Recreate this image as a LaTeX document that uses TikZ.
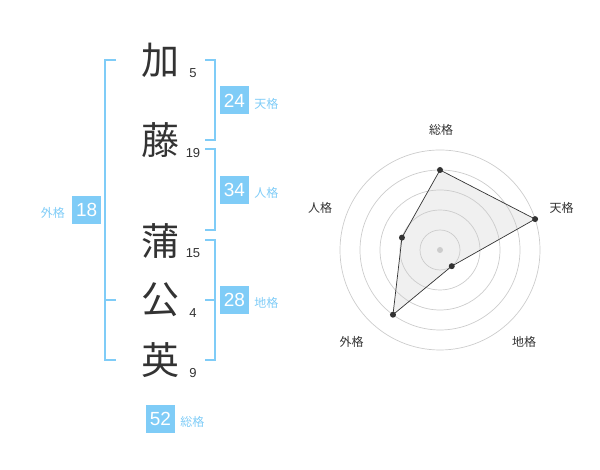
\documentclass[tikz,border=0pt]{standalone}
\usepackage{fontspec}
\setmainfont{Liberation Sans}
\newfontfamily\cjk{Noto Sans CJK JP}
\usetikzlibrary{calc}
\usetikzlibrary{positioning}
\definecolor{kaku}{RGB}{127,204,247}
\definecolor{sumi}{RGB}{51,51,51}
\definecolor{usu}{RGB}{204,204,204}
\definecolor{nuri}{RGB}{240,240,240}

\begin{document}
\begin{tikzpicture}[x=1pt,y=1pt]
	\tikzstyle{moji}=[text=sumi,font=\cjk\fontsize{38}{38}\selectfont,inner sep=0pt];
	\tikzstyle{kakusu}=[text=sumi,font=\fontsize{13}{13}\selectfont,inner sep=0pt];
	\tikzstyle{hako}=[fill=kaku,text=white,font=\fontsize{19}{19}\selectfont,minimum width=29pt,minimum height=28pt,inner sep=0pt];
	\tikzstyle{mei}=[text=kaku,font=\cjk\fontsize{12}{12}\selectfont,inner sep=0pt];
	\tikzstyle{kakko}=[kaku,line width=2pt];
	\tikzstyle{jiku}=[text=sumi,font=\cjk\fontsize{12}{12}\selectfont,inner sep=0pt];
	\tikzstyle{ten}=[circle,fill=sumi,inner sep=0pt,minimum size=6pt];
	\useasboundingbox (0,0) rectangle (600,470);
	%% name and strokes
	\node[moji] (k1) at (160,410) {加};
	\node[moji] (k2) at (160,329.5) {藤};
	\node[moji] (k3) at (160,229) {蒲};
	\node[moji] (k4) at (160,170) {公};
	\node[moji] (k5) at (160,110) {英};
	\node[kakusu] (s1) at (193,397.3) {5};
	\node[kakusu] (s2) at (193,317.3) {19};
	\node[kakusu] (s3) at (193,217.3) {15};
	\node[kakusu] (s4) at (193,157.3) {4};
	\node[kakusu] (s5) at (193,97.3) {9};
	%% brackets
	\draw[kakko] (116,410) -- (105,410) -- (105,110) -- (116,110);
	\draw[kakko] (105,170) -- (116,170);
	\draw[kakko] (205,410) -- (215,410) -- (215,330) -- (205,330);
	\draw[kakko] (205,321) -- (215,321) -- (215,240) -- (205,240);
	\draw[kakko] (205,230) -- (215,230) -- (215,110) -- (205,110);
	\draw[kakko] (205,170) -- (215,170);
	%% boxes
	\node[hako] (gai) at (86.7,260) {18};
	\node[mei,left=7pt of gai,yshift=-3pt] (gaimei) {外格};
	\node[hako] (ten) at (234.5,369.5) {24};
	\node[mei,right=5pt of ten,yshift=-3pt] (tenmei) {天格};
	\node[hako] (jin) at (234.5,280) {34};
	\node[mei,right=5pt of jin,yshift=-3pt] (jinmei) {人格};
	\node[hako] (chi) at (234.5,170) {28};
	\node[mei,right=5pt of chi,yshift=-3pt] (chimei) {地格};
	\node[hako] (so) at (160.5,51) {52};
	\node[mei,right=5pt of so,yshift=-3pt] (somei) {総格};
	%% radar
	\coordinate (c) at (440,220);
	\coordinate (p1) at ($(c)+(90:80pt)$);
	\coordinate (p2) at ($(c)+(18:100pt)$);
	\coordinate (p3) at ($(c)+(-54:20pt)$);
	\coordinate (p4) at ($(c)+(234:80pt)$);
	\coordinate (p5) at ($(c)+(162:40pt)$);
	\fill[nuri] (p1) -- (p2) -- (p3) -- (p4) -- (p5) -- cycle;
	\foreach \r in {20,40,60,80,100}
		\draw[usu,line width=0.7pt] (c) circle (\r pt);
	\node[circle,fill=usu,inner sep=0pt,minimum size=6pt] (o) at (c) {};
	\draw[sumi,line width=0.7pt] (p1) -- (p2) -- (p3) -- (p4) -- (p5) -- cycle;
	\foreach \p in {p1,p2,p3,p4,p5}
		\node[ten] at (\p) {};
	\node[jiku] (a1) at ($(c)+(1,120)$) {総格};
	\node[jiku] (a2) at ($(c)+(121.7,41.7)$) {天格};
	\node[jiku] (a3) at ($(c)+(84,-91.7)$) {地格};
	\node[jiku] (a4) at ($(c)+(-88.3,-91.7)$) {外格};
	\node[jiku] (a5) at ($(c)+(-120,42)$) {人格};
\end{tikzpicture}
\end{document}
